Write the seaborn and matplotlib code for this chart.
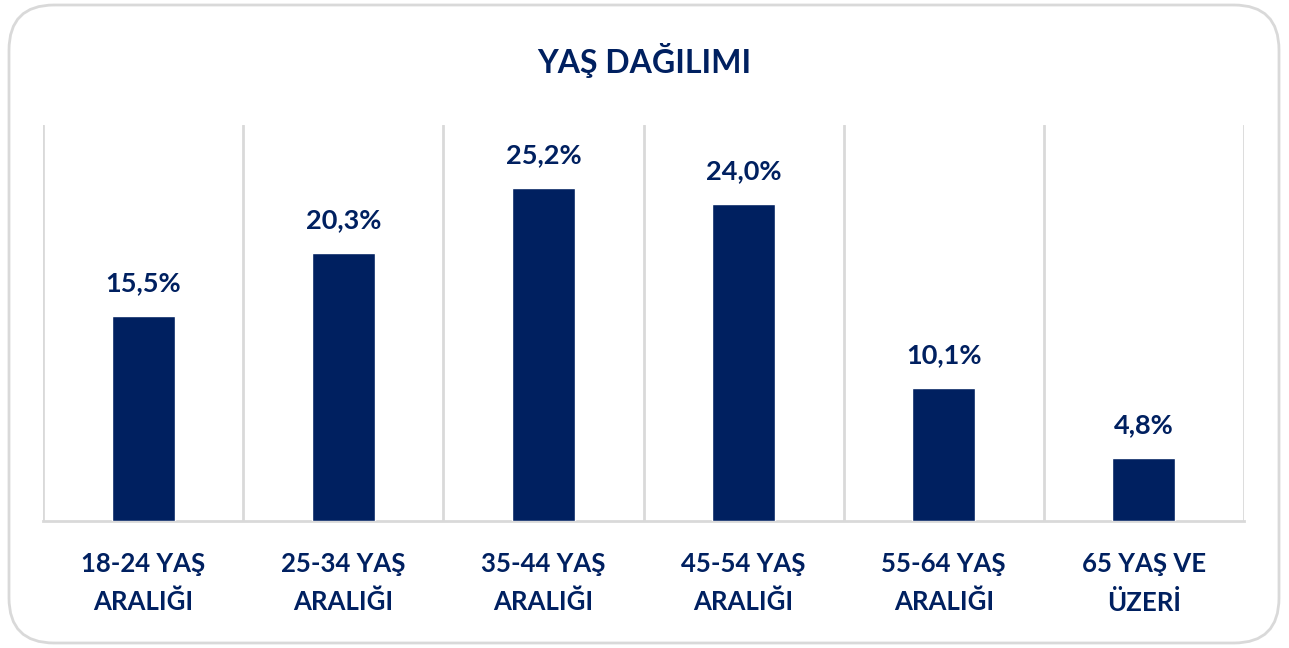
import matplotlib
matplotlib.use("Agg")
import matplotlib.pyplot as plt
import seaborn as sns
import numpy as np
import pandas as pd
from matplotlib.patches import FancyBboxPatch

categories = ["18-24 YAŞ\nARALIĞI", "25-34 YAŞ\nARALIĞI", "35-44 YAŞ\nARALIĞI",
              "45-54 YAŞ\nARALIĞI", "55-64 YAŞ\nARALIĞI", "65 YAŞ VE\nÜZERİ"]
values = [15.5, 20.3, 25.2, 24.0, 10.1, 4.8]
title = "YAŞ DAĞILIMI"

NAVY = "#002060"
GRID = "#d9d9d9"

sns.set_theme(style="white")
plt.rcParams['font.family'] = ['Lato', 'DejaVu Sans']

W, H = 1289, 648
fig = plt.figure(figsize=(W / 100, H / 100), dpi=100)
fig.patch.set_facecolor("white")

# rounded border
border = FancyBboxPatch((9 / W, 5 / H), (1270 / W), (638 / H),
                        boxstyle="round,pad=0,rounding_size=0.035",
                        transform=fig.transFigure, fill=False,
                        edgecolor=GRID, linewidth=2, mutation_aspect=W / H)
fig.patches.append(border)

ax = fig.add_axes([43 / W, (H - 521) / H, (1244 - 43) / W, (521 - 125) / H])
df = pd.DataFrame({"cat": categories, "val": values})
sns.barplot(data=df, x="cat", y="val", color=NAVY, width=0.315, ax=ax,
            saturation=1, zorder=3)

ax.set_xlim(-0.5, len(categories) - 0.5)
ax.set_ylim(0, 30)
ax.set_xlabel("")
ax.set_ylabel("")
ax.set_yticks([])

ax.set_xticks(np.arange(-0.5, len(categories)), minor=True)
ax.grid(True, which="minor", axis="x", color=GRID, linewidth=2)
ax.grid(False, which="major")
ax.tick_params(axis="x", which="both", length=0, pad=22)
for lbl in ax.get_xticklabels():
    lbl.set_fontsize(18.5)
    lbl.set_fontweight("bold")
    lbl.set_color(NAVY)
    lbl.set_linespacing(1.68)

for s in ["top", "right", "left"]:
    ax.spines[s].set_visible(False)
ax.spines["bottom"].set_color(GRID)
ax.spines["bottom"].set_linewidth(2)

ax.bar_label(ax.containers[0],
             labels=[f"{v:.1f}%".replace(".", ",") for v in values],
             padding=15, fontsize=19.5, fontweight="bold", color=NAVY)

fig.text(0.5, (H - 60) / H, title, ha="center", va="center",
         fontsize=23, fontweight="bold", color=NAVY)

fig.savefig("out.png", dpi=100, facecolor="white")
